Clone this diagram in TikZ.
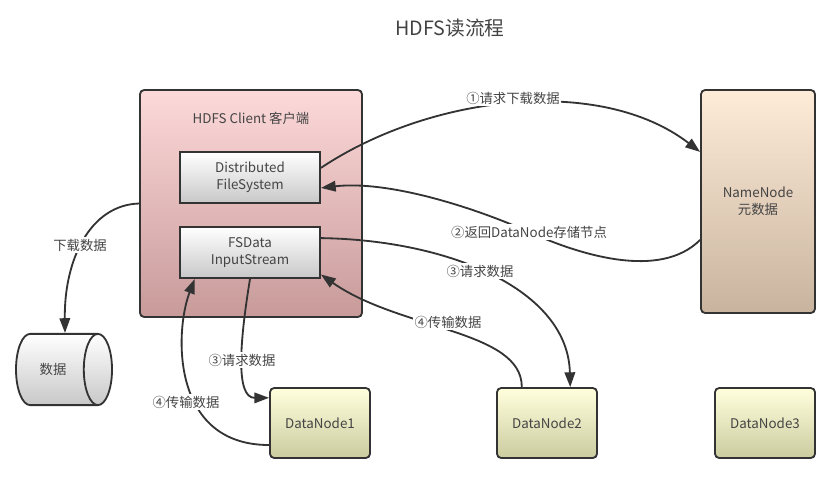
\documentclass[tikz,border=0pt]{standalone}
\usepackage{fontspec}
\setmainfont{Noto Sans CJK SC}
\usetikzlibrary{arrows.meta,shapes.geometric}
\definecolor{edgec}{RGB}{51,51,51}
\definecolor{txtc}{RGB}{68,68,68}
\definecolor{clienttop}{RGB}{253,217,217}
\definecolor{clientbot}{RGB}{200,154,154}
\definecolor{nametop}{RGB}{254,235,216}
\definecolor{namebot}{RGB}{200,180,158}
\definecolor{datatop}{RGB}{255,255,221}
\definecolor{databot}{RGB}{204,204,160}
\definecolor{graybot}{RGB}{200,200,200}
\tikzset{
  box/.style={draw=edgec, line width=1.3pt, text=txtc, align=center, font=\fontsize{9.5}{12}\selectfont},
  client/.style={box, rounded corners=3pt, top color=clienttop, bottom color=clientbot, minimum width=5.55cm, minimum height=5.675cm},
  inner/.style={box, top color=white, bottom color=graybot, minimum width=3.5cm, minimum height=1.275cm},
  namenode/.style={box, rounded corners=3pt, top color=nametop, bottom color=namebot, minimum width=2.85cm, minimum height=5.575cm},
  datanode/.style={box, rounded corners=3pt, top color=datatop, bottom color=databot, minimum width=2.5cm, minimum height=1.75cm},
  store/.style={box, cylinder, shape aspect=1.3, top color=white, bottom color=graybot, minimum width=1.78cm, minimum height=2.4cm},
  lbl/.style={fill=white, inner sep=1pt, text=txtc, font=\fontsize{9.5}{12}\selectfont},
  flow/.style={draw=edgec, line width=1.3pt, -{Triangle[length=10.5pt,width=7.5pt]}}
}
\begin{document}
\begin{tikzpicture}[x=0.025cm, y=0.025cm]
  \useasboundingbox (0,0) rectangle (833,-483);
  \node[text=txtc, font=\fontsize{14}{16}\selectfont] (title) at (450,-28) {HDFS读流程};

  % client side
  \node[client] (client) at (251,-203.5) {};
  \node[text=txtc, font=\fontsize{9.5}{12}\selectfont] (clienttitle) at (251,-118) {HDFS Client 客户端};
  \node[inner] (dfs) at (250,-177.5) {Distributed\\FileSystem};
  \node[inner] (fsd) at (250,-252.5) {FSData\\InputStream};
  \node[store] (data) at (53,-369.5) {数据};

  % servers
  \node[namenode] (nn) at (758,-201.5) {NameNode\\元数据};
  \node[datanode] (dn1) at (320,-423) {DataNode1};
  \node[datanode] (dn2) at (547,-423) {DataNode2};
  \node[datanode] (dn3) at (765,-423) {DataNode3};

  % connectors
  \draw[flow] ([yshift=0.24cm]dfs.east) .. controls (430,-95) and (600,-75) .. ([yshift=1.24cm]nn.west);
  \draw[flow] ([yshift=-0.96cm]nn.west) .. controls (660,-280) and (580,-255) .. (529,-232)
    .. controls (478,-209) and (390,-180) .. ([yshift=-0.26cm]dfs.east);
  \draw[flow] ([yshift=0.36cm]fsd.east) .. controls (450,-240) and (568,-290) .. ([xshift=0.58cm]dn2.north);
  \draw[flow] ([xshift=-0.63cm]dn2.north) .. controls (522,-330) and (400,-330) .. ([yshift=-0.55cm]fsd.east);
  \draw[flow] (client.west) .. controls (90,-205) and (64,-260) .. ([xshift=0.3cm]data.north);
  \draw[flow] (fsd.south) .. controls (240,-340) and (235,-398) .. ([yshift=0.63cm]dn1.west);
  \draw[flow] ([yshift=-0.55cm]dn1.west) .. controls (170,-445) and (175,-330) .. ([xshift=-1.38cm]fsd.south);

  % labels
  \node[lbl] (l1) at (513,-98) {①请求下载数据};
  \node[lbl] (l2) at (529,-232) {②返回DataNode存储节点};
  \node[lbl] (l3) at (480,-271) {③请求数据};
  \node[lbl] (l4) at (448,-322) {④传输数据};
  \node[lbl] (l5) at (80,-245) {下载数据};
  \node[lbl] (l6) at (242,-360) {③请求数据};
  \node[lbl] (l7) at (186,-402) {④传输数据};
\end{tikzpicture}
\end{document}
